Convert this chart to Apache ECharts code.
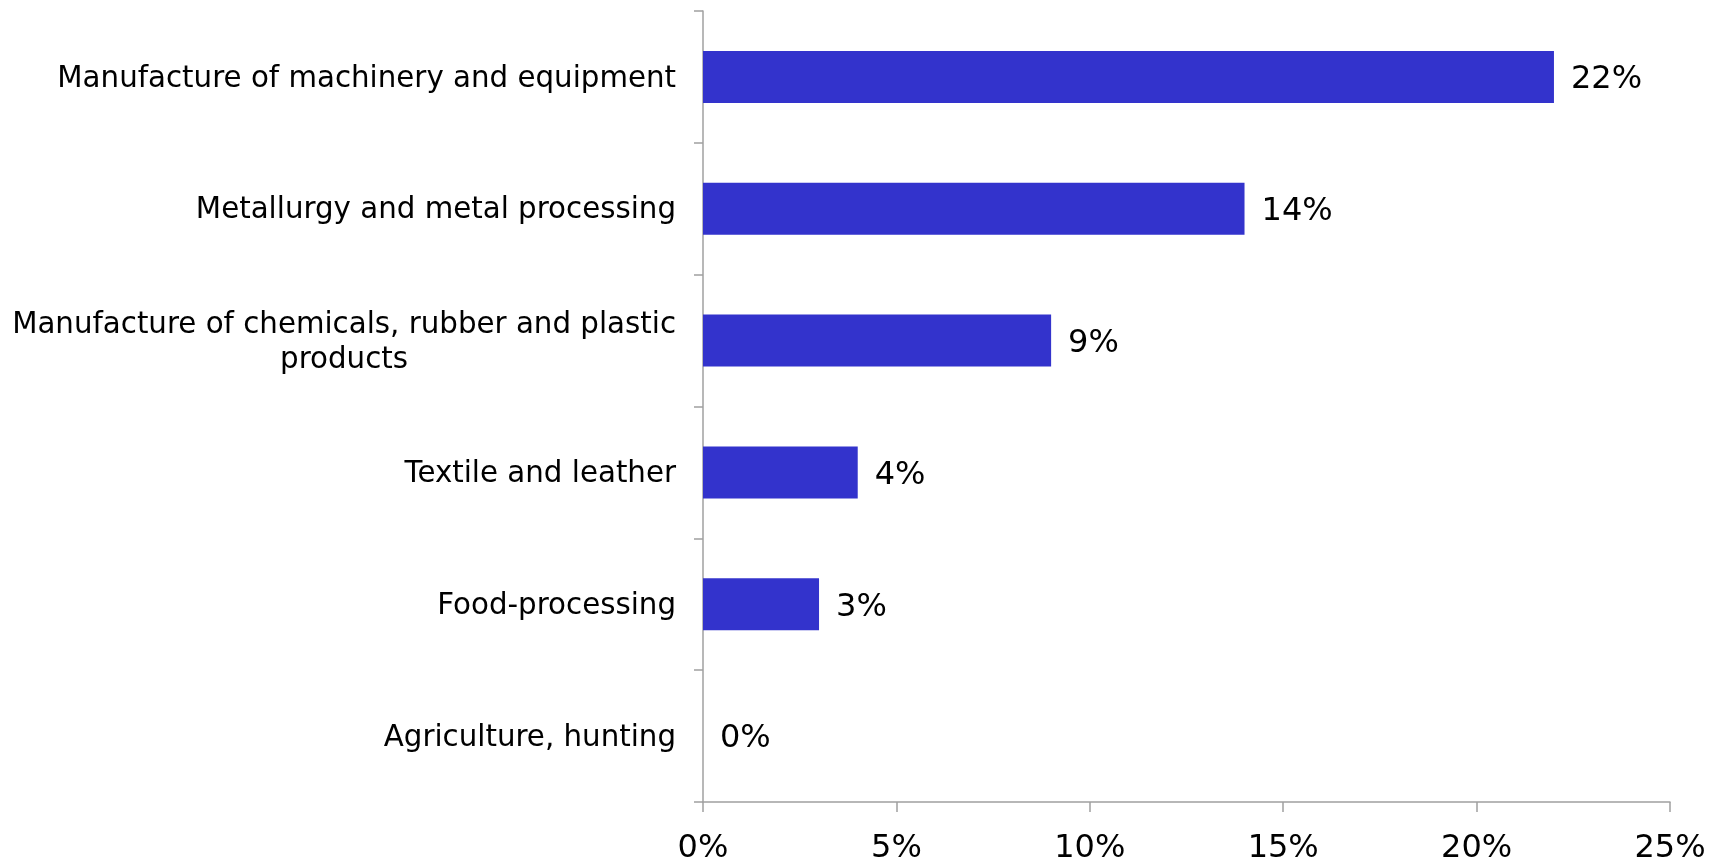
<!DOCTYPE html>
<html>
<head>
<meta charset="utf-8">
<script src="https://cdn.jsdelivr.net/npm/echarts@6/dist/echarts.min.js"></script>
<style>
html,body{margin:0;padding:0;background:#fff;}
#main{width:1719px;height:861px;}
</style>
</head>
<body>
<div id="main"></div>
<script>
const categories = [
  "Manufacture of machinery and equipment",
  "Metallurgy and metal processing",
  "Manufacture of chemicals, rubber and plastic\nproducts",
  "Textile and leather",
  "Food-processing",
  "Agriculture, hunting"
];
const shares = [22, 14, 9, 4, 3, 0];
const xTicks = [0, 5, 10, 15, 20, 25];

const chart = echarts.init(document.getElementById('main'));
const axisColor = '#a0a0a0';
chart.setOption({
  animation: false,
  backgroundColor: '#ffffff',
  grid: { left: 703, right: 49, top: 11, bottom: 59, containLabel: false, outerBoundsMode: 'none' },
  xAxis: {
    type: 'value',
    min: xTicks[0],
    max: xTicks[xTicks.length - 1],
    interval: xTicks[1] - xTicks[0],
    axisLine: { show: true, lineStyle: { color: axisColor, width: 1.5 } },
    axisTick: { show: true, length: 10, lineStyle: { color: axisColor, width: 1.5 } },
    splitLine: { show: false },
    axisLabel: {
      margin: 31,
      formatter: '{value}%',
      color: '#000',
      fontFamily: 'DejaVu Sans',
      fontSize: 32
    }
  },
  yAxis: {
    type: 'category',
    inverse: true,
    data: categories,
    axisLine: { show: true, lineStyle: { color: axisColor, width: 1.5 } },
    axisTick: { show: true, length: 9, alignWithLabel: false, lineStyle: { color: axisColor, width: 1.5 } },
    axisLabel: {
      margin: 27,
      color: '#000',
      fontFamily: 'DejaVu Sans',
      fontSize: 29.3,
      lineHeight: 35,
      padding: [4, 0, 0, 0],
      formatter: function (v) {
        return v.split('\n').map(function (s) { return '{c|' + s + '}'; }).join('\n');
      },
      rich: {
        c: { align: 'center', fontFamily: 'DejaVu Sans', fontSize: 29.3, lineHeight: 35, color: '#000' }
      }
    }
  },
  series: [{
    type: 'bar',
    data: shares,
    barWidth: 52,
    itemStyle: { color: '#3333CC' },
    label: {
      show: true,
      position: 'right',
      distance: 17,
      offset: [0, 3],
      formatter: '{c}%',
      color: '#000',
      fontFamily: 'DejaVu Sans',
      fontSize: 32
    }
  }]
});
</script>
</body>
</html>
